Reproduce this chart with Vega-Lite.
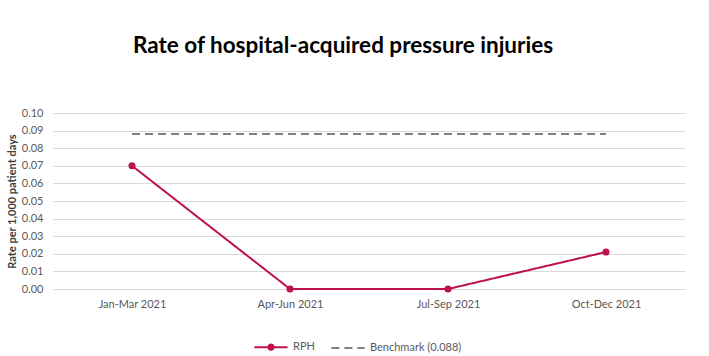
{
  "$schema": "https://vega.github.io/schema/vega-lite/v6.json",
  "width": 632,
  "height": 176,
  "autosize": {"type": "none"},
  "padding": {"left": 53, "top": 113, "right": 24, "bottom": 67},
  "background": "white",
  "title": {
    "text": "Rate of hospital-acquired pressure injuries",
    "font": "Lato",
    "fontSize": 22.5,
    "fontWeight": "bold",
    "color": "#000000",
    "anchor": "middle",
    "offset": 50,
    "dx": -26
  },
  "data": {
    "values": [
      {"period": "Jan-Mar 2021", "series": "RPH", "value": 0.07},
      {"period": "Apr-Jun 2021", "series": "RPH", "value": 0.0},
      {"period": "Jul-Sep 2021", "series": "RPH", "value": 0.0},
      {"period": "Oct-Dec 2021", "series": "RPH", "value": 0.021},
      {"period": "Jan-Mar 2021", "series": "Benchmark (0.088)", "value": 0.088},
      {"period": "Apr-Jun 2021", "series": "Benchmark (0.088)", "value": 0.088},
      {"period": "Jul-Sep 2021", "series": "Benchmark (0.088)", "value": 0.088},
      {"period": "Oct-Dec 2021", "series": "Benchmark (0.088)", "value": 0.088}
    ]
  },
  "encoding": {
    "x": {
      "field": "period",
      "type": "ordinal",
      "sort": null,
      "scale": {"type": "point", "padding": 0.5},
      "axis": {
        "title": null,
        "labelAngle": 0,
        "ticks": false,
        "domain": false,
        "grid": false,
        "labelFont": "Lato",
        "labelFontSize": 11,
        "labelColor": "#595959",
        "labelPadding": 9
      }
    },
    "y": {
      "field": "value",
      "type": "quantitative",
      "scale": {"domain": [0, 0.1], "nice": false},
      "axis": {
        "title": "Rate per 1,000 patient days",
        "titleFont": "Lato",
        "titleFontSize": 11,
        "titleFontWeight": "bold",
        "titleColor": "#404040",
        "titlePadding": 4,
        "values": [0, 0.01, 0.02, 0.03, 0.04, 0.05, 0.06, 0.07, 0.08, 0.09, 0.1],
        "format": ".2f",
        "labelFont": "Lato",
        "labelFontSize": 11,
        "labelColor": "#595959",
        "labelPadding": 10,
        "ticks": false,
        "domain": false,
        "gridColor": "#d9d9d9",
        "gridWidth": 1
      }
    },
    "color": {
      "field": "series",
      "type": "nominal",
      "scale": {"domain": ["RPH", "Benchmark (0.088)"], "range": ["#BE1150", "#808080"]},
      "legend": {
        "title": null,
        "orient": "none",
        "legendX": 200,
        "legendY": 216,
        "direction": "horizontal",
        "labelFont": "Lato",
        "labelFontSize": 11,
        "labelColor": "#595959",
        "symbolType": "stroke",
        "symbolSize": 1100,
        "symbolStrokeWidth": 2,
        "columnPadding": 12,
        "labelOffset": 4,
        "encode": {
          "symbols": {
            "update": {
              "shape": {"signal": "datum.label === 'RPH' ? 'M-1,0H1M-0.16,0A0.16,0.16 0 1,0 0.16,0A0.16,0.16 0 1,0 -0.16,0' : 'stroke'"}
            }
          }
        }
      }
    },
    "strokeDash": {
      "field": "series",
      "type": "nominal",
      "scale": {"domain": ["RPH", "Benchmark (0.088)"], "range": [[1, 0], [8, 5]]},
      "legend": {
        "title": null,
        "orient": "none",
        "legendX": 200,
        "legendY": 216,
        "direction": "horizontal",
        "labelFont": "Lato",
        "labelFontSize": 11,
        "labelColor": "#595959",
        "symbolType": "stroke",
        "symbolSize": 1100,
        "symbolStrokeWidth": 2,
        "columnPadding": 12,
        "labelOffset": 4,
        "encode": {
          "symbols": {
            "update": {
              "shape": {"signal": "datum.label === 'RPH' ? 'M-1,0H1M-0.16,0A0.16,0.16 0 1,0 0.16,0A0.16,0.16 0 1,0 -0.16,0' : 'stroke'"}
            }
          }
        }
      }
    }
  },
  "layer": [
    {"mark": {"type": "line", "strokeWidth": 2}},
    {
      "transform": [{"filter": "datum.series === 'RPH'"}],
      "mark": {"type": "point", "filled": true, "size": 50, "opacity": 1}
    }
  ],
  "config": {"view": {"stroke": null}}
}
